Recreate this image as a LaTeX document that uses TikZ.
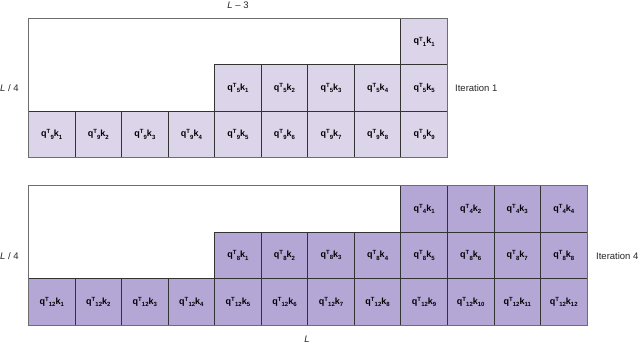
\documentclass[tikz,border=0pt]{standalone}
\usepackage{fontspec}
\setmainfont{Liberation Sans}
\definecolor{lightcell}{HTML}{DCD5EA}
\definecolor{darkcell}{HTML}{B4A7D6}
\definecolor{cellline}{HTML}{333333}
\definecolor{frameline}{HTML}{6E6E6E}
\newcommand{\scr}[1]{{\fontsize{6}{6}\selectfont #1}}
\newcommand{\qkl}[2]{\textbf{q\raisebox{0.6ex}{\scr{T}}\kern0.02em\raisebox{-0.5ex}{\scr{#1}}k\raisebox{-0.5ex}{\scr{#2}}}}
\tikzset{
  cellbox/.style={draw=cellline, line width=0.9pt, anchor=north west, inner sep=0pt,
    minimum width=46.55pt, minimum height=46.4pt, font=\fontsize{9}{10}\selectfont},
  cellA/.style={cellbox, fill=lightcell},
  cellB/.style={cellbox, fill=darkcell},
  framebox/.style={draw=frameline, line width=0.9pt, anchor=north west, inner sep=0pt},
  lab/.style={font=\fontsize{9.5}{11}\selectfont, inner sep=0pt, text=black!85}
}
\begin{document}
\begin{tikzpicture}[x=1pt,y=-1pt]
\useasboundingbox (0,0) rectangle (640,343);
\def\w{46.55}
\def\h{46.4}
% ---------- Iteration 1 ----------
\node[cellA] (a-0-8) at ({28+8*\w},18) {\qkl{1}{1}};
\foreach \c [evaluate=\c as \k using int(\c-3)] in {4,...,8}
  \node[cellA] (a-1-\c) at ({28+\c*\w},{18+\h}) {\qkl{5}{\k}};
\foreach \c [evaluate=\c as \k using int(\c+1)] in {0,...,8}
  \node[cellA] (a-2-\c) at ({28+\c*\w},{18+2*\h}) {\qkl{9}{\k}};
\node[framebox, minimum width={9*\w pt}, minimum height={3*\h pt}] (frameA) at (28,18) {};
\node[lab] (Lminus3) at (238,5) {\textit{L} – 3};
\node[lab, anchor=west] (LfourA) at (0,88) {\textit{L} / 4};
\node[lab, anchor=west] (iterA) at (455,88) {Iteration 1};
% ---------- Iteration 4 ----------
\foreach \c [evaluate=\c as \k using int(\c-7)] in {8,...,11}
  \node[cellB] (b-0-\c) at ({28+\c*\w},185.3) {\qkl{4}{\k}};
\foreach \c [evaluate=\c as \k using int(\c-3)] in {4,...,11}
  \node[cellB] (b-1-\c) at ({28+\c*\w},{185.3+\h}) {\qkl{8}{\k}};
\foreach \c [evaluate=\c as \k using int(\c+1)] in {0,...,11}
  \node[cellB] (b-2-\c) at ({28+\c*\w},{185.3+2*\h}) {\qkl{12}{\k}};
\node[framebox, minimum width={12*\w pt}, minimum height={3*\h pt}] (frameB) at (28,185.3) {};
\node[lab, anchor=west] (LfourB) at (0,256) {\textit{L} / 4};
\node[lab, anchor=west] (iterB) at (596,256) {Iteration 4};
\node[lab] (Lbottom) at (307,339) {\textit{L}};
\end{tikzpicture}
\end{document}
